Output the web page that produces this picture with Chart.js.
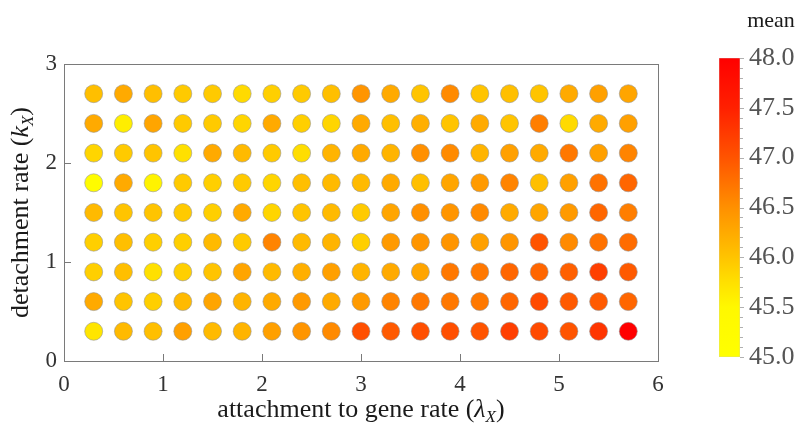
<!DOCTYPE html>
<html>
<head>
<meta charset="utf-8">
<script src="https://cdn.jsdelivr.net/npm/chart.js@4.4.1/dist/chart.umd.min.js"></script>
<style>
  html,body{margin:0;padding:0;background:#fff;}
  #wrap{position:relative;width:800px;height:439px;}
  #main{position:absolute;left:0;top:0;}
  #cbar{position:absolute;left:690px;top:0;}
</style>
</head>
<body>
<div id="wrap">
  <canvas id="main" width="800" height="439"></canvas>
  <canvas id="cbar" width="110" height="439"></canvas>
</div>
<script>
// ---------- DATA ----------
const xValues = [0.3,0.6,0.9,1.2,1.5,1.8,2.1,2.4,2.7,3.0,3.3,3.6,3.9,4.2,4.5,4.8,5.1,5.4,5.7];
const yValues = [2.7,2.4,2.1,1.8,1.5,1.2,0.9,0.6,0.3];
const meanK27 = [46.05,46.25,46.05,45.95,45.95,45.8,45.9,45.95,46.05,46.45,46.25,46.0,46.55,46.0,46.05,46.0,46.25,46.35,46.3];
const meanK24 = [46.25,45.6,46.3,45.95,45.95,45.85,46.25,45.9,45.85,46.25,46.05,46.2,46.0,46.25,46.0,46.65,45.8,46.25,46.35];
const meanK21 = [45.85,45.95,46.0,45.75,46.25,46.1,45.95,45.78,46.15,46.25,46.15,46.5,46.55,46.15,46.35,46.25,46.7,46.35,46.6];
const meanK18 = [45.2,46.25,45.55,45.95,45.9,45.95,45.85,46.05,46.1,46.1,46.25,46.05,46.3,46.4,46.6,46.05,46.35,46.75,46.85];
const meanK15 = [46.1,46.0,46.0,45.95,45.9,46.25,45.85,46.0,46.1,45.95,46.3,46.5,46.45,46.55,46.25,46.3,46.4,46.85,46.65];
const meanK12 = [45.9,46.05,45.9,45.9,46.1,45.95,46.6,46.1,46.15,45.9,46.4,46.45,46.45,46.35,46.45,47.0,46.55,46.75,46.8];
const meanK09 = [45.9,46.05,45.75,45.9,46.0,46.3,46.1,46.2,46.35,46.15,46.25,46.3,46.7,46.7,46.85,46.85,46.9,47.2,46.95];
const meanK06 = [46.25,46.0,45.9,46.1,46.3,46.15,46.25,46.4,46.25,46.4,46.6,46.7,46.7,46.7,46.85,47.1,46.95,46.95,46.85];
const meanK03 = [45.7,46.1,46.05,46.35,46.1,46.15,46.35,46.45,46.55,47.05,46.95,47.05,47.05,47.0,47.2,47.1,47.0,47.3,48.0];
const meanRows = [meanK27,meanK24,meanK21,meanK18,meanK15,meanK12,meanK09,meanK06,meanK03];
const xTicks = [0,1,2,3,4,5,6];
const yTicks = [0,1,2,3];
const cbarTicks = [45.0,45.5,46.0,46.5,47.0,47.5,48.0];
const cbarMin = 45, cbarMax = 48;

// ---------- COLOR MAP ----------
const cmapStops = [
  [45.0,[255,255,0]],[45.5,[255,248,0]],[45.75,[255,224,0]],[46.0,[255,196,0]],
  [46.25,[255,170,0]],[46.5,[255,144,0]],[46.75,[255,114,0]],[47.0,[255,84,0]],
  [47.25,[255,58,0]],[47.5,[255,32,0]],[48.0,[255,0,0]]
];
function cmap(v){
  if (v <= cmapStops[0][0]) return 'rgb(255,255,0)';
  for (let i=1;i<cmapStops.length;i++){
    const [v1,c1] = cmapStops[i];
    const [v0,c0] = cmapStops[i-1];
    if (v <= v1){
      const t = (v-v0)/(v1-v0);
      const c = c0.map((a,k)=>Math.round(a+(c1[k]-a)*t));
      return `rgb(${c[0]},${c[1]},${c[2]})`;
    }
  }
  return 'rgb(255,0,0)';
}

// ---------- BUILD POINTS ----------
const points = [];
const colors = [];
yValues.forEach((yv,ri)=>{
  xValues.forEach((xv,ci)=>{
    const m = meanRows[ri][ci];
    points.push({x:xv, y:yv, v:m});
    colors.push(cmap(m));
  });
});

const SERIF = '"Liberation Serif","Times New Roman",serif';

function drawRich(ctx, parts, x, y, rotate){
  ctx.save();
  ctx.translate(x,y);
  if (rotate) ctx.rotate(-Math.PI/2);
  let total = 0;
  parts.forEach(p=>{ ctx.font = p.font; total += ctx.measureText(p.t).width; });
  let cx = -total/2;
  ctx.textBaseline = 'alphabetic';
  ctx.textAlign = 'left';
  parts.forEach(p=>{
    ctx.font = p.font;
    ctx.fillStyle = p.color || '#1a1a1a';
    ctx.fillText(p.t, cx, p.dy || 0);
    cx += ctx.measureText(p.t).width;
  });
  ctx.restore();
}

const framePlugin = {
  id:'frame',
  afterDraw(chart){
    const {ctx, chartArea:a, scales:{x,y}} = chart;
    ctx.save();
    ctx.strokeStyle = '#7a7a7a';
    ctx.lineWidth = 1;
    ctx.strokeRect(Math.round(a.left)+0.5, Math.round(a.top)+0.5, Math.round(a.right-a.left), Math.round(a.bottom-a.top));
    ctx.beginPath();
    xTicks.forEach(v=>{
      const px = Math.round(x.getPixelForValue(v))+0.5;
      ctx.moveTo(px, a.bottom); ctx.lineTo(px, a.bottom-7);
    });
    yTicks.forEach(v=>{
      const py = Math.round(y.getPixelForValue(v))+0.5;
      ctx.moveTo(a.left, py); ctx.lineTo(a.left+7, py);
    });
    ctx.stroke();
    ctx.restore();
    const fN = `26px ${SERIF}`, fI = `italic 26px ${SERIF}`, fS = `italic 17px ${SERIF}`;
    drawRich(ctx, [
      {t:'attachment to gene rate (', font:fN},
      {t:'\u03BB', font:fI},
      {t:'X', font:fS, dy:5},
      {t:')', font:fN}
    ], (a.left+a.right)/2, 417, false);
    drawRich(ctx, [
      {t:'detachment rate (', font:fN},
      {t:'k', font:fI},
      {t:'X', font:fS, dy:5},
      {t:')', font:fN}
    ], 28, (a.top+a.bottom)/2, true);
  }
};

new Chart(document.getElementById('main'), {
  type:'scatter',
  data:{ datasets:[{
    data: points,
    backgroundColor: colors,
    borderColor: 'rgba(150,150,150,0.85)',
    borderWidth: 0.7,
    pointRadius: 9,
    pointHoverRadius: 9
  }]},
  options:{
    responsive:false,
    animation:false,
    events:[],
    layout:{padding:{left:0, top:64, right:142, bottom:0}},
    plugins:{legend:{display:false}, tooltip:{enabled:false}},
    scales:{
      x:{
        type:'linear', min:0, max:6,
        afterBuildTicks(s){ s.ticks = xTicks.map(v=>({value:v})); },
        afterFit(s){ s.height = 78; },
        grid:{display:false, drawTicks:false},
        border:{display:false},
        ticks:{ padding:10, color:'#333', font:{family:SERIF, size:23}, maxRotation:0, callback:v=>String(v)}
      },
      y:{
        type:'linear', min:0, max:3,
        afterBuildTicks(s){ s.ticks = yTicks.map(v=>({value:v})); },
        afterFit(s){ s.width = 64; },
        grid:{display:false, drawTicks:false},
        border:{display:false},
        ticks:{ padding:7, color:'#333', font:{family:SERIF, size:23}, callback:v=>String(v)}
      }
    }
  },
  plugins:[framePlugin]
});

// ---------- COLOR BAR ----------
const cbarPlugin = {
  id:'cbarDecor',
  afterDraw(chart){
    const {ctx, chartArea:a, scales:{y}} = chart;
    ctx.save();
    ctx.strokeStyle = '#b0b0b0';
    ctx.lineWidth = 1;
    ctx.beginPath();
    for (let k=0;k<=30;k++){
      const v = cbarMin + k*0.1;
      const py = Math.round(y.getPixelForValue(v))+0.5;
      const major = (k%5===0);
      ctx.moveTo(a.right, py); ctx.lineTo(a.right + (major?4:3), py);
    }
    ctx.stroke();
    ctx.font = `22px ${SERIF}`;
    ctx.fillStyle = '#1a1a1a';
    ctx.textAlign = 'center';
    ctx.textBaseline = 'middle';
    ctx.fillText('mean', 81, 21);
    ctx.restore();
  }
};

new Chart(document.getElementById('cbar'), {
  type:'bar',
  data:{ labels:[''], datasets:[{
    data:[[cbarMin, cbarMax]],
    backgroundColor(ctx){
      const ch = ctx.chart; const a = ch.chartArea;
      if (!a) return 'orange';
      const ys = ch.scales.y;
      const g = ch.ctx.createLinearGradient(0, ys.getPixelForValue(cbarMin), 0, ys.getPixelForValue(cbarMax));
      cmapStops.forEach(([v,c])=>{
        g.addColorStop((v-cbarMin)/(cbarMax-cbarMin), `rgb(${c[0]},${c[1]},${c[2]})`);
      });
      return g;
    },
    borderColor:'#c8c8c8',
    borderWidth:0.6,
    borderSkipped:false,
    barPercentage:1, categoryPercentage:1
  }]},
  options:{
    responsive:false,
    animation:false,
    events:[],
    layout:{padding:{left:29, top:58, right:0, bottom:82}},
    plugins:{legend:{display:false}, tooltip:{enabled:false}},
    scales:{
      x:{display:false},
      y:{
        position:'right', min:cbarMin, max:cbarMax,
        afterBuildTicks(s){ s.ticks = cbarTicks.map(v=>({value:v})); },
        afterFit(s){ s.width = 60; },
        grid:{display:false, drawTicks:false},
        border:{display:false},
        ticks:{ padding:9, color:'#555', font:{family:SERIF, size:26}, callback:v=>Number(v).toFixed(1)}
      }
    }
  },
  plugins:[cbarPlugin]
});
</script>
</body>
</html>
